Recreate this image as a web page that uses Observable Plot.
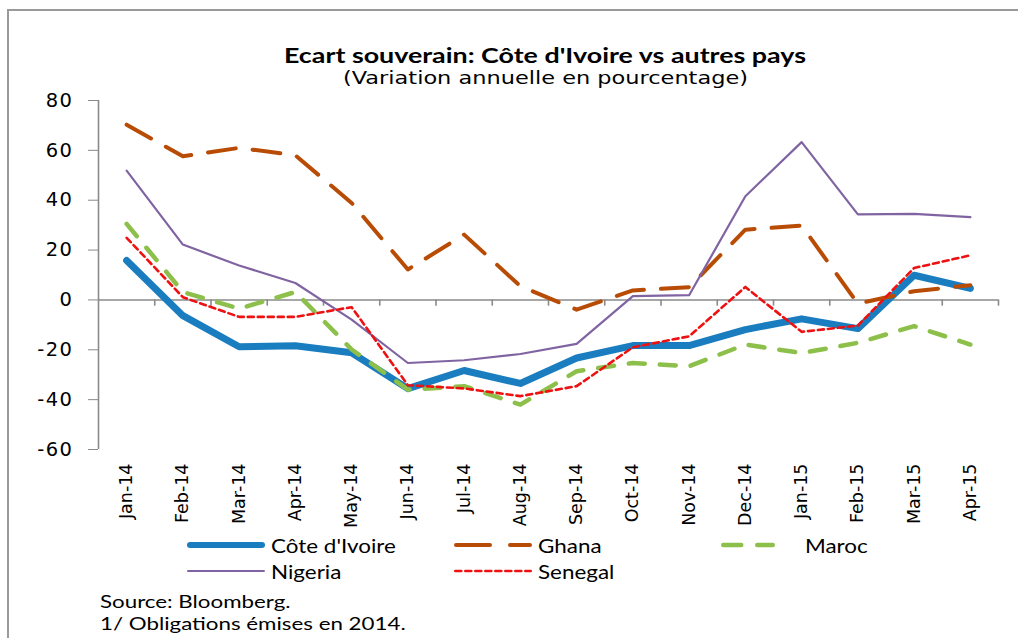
<!DOCTYPE html>
<html><head><meta charset="utf-8">
<script src="https://cdn.jsdelivr.net/npm/d3@7"></script>
<script src="https://cdn.jsdelivr.net/npm/@observablehq/plot@0.6"></script>
<style>
body{margin:0;background:#fff;}
#wrap{position:relative;width:1018px;height:638px;overflow:hidden;background:#fff;font-family:Lato,"Open Sans",sans-serif;color:#000;}
#frame{position:absolute;left:7px;top:9px;right:-10px;bottom:-10px;border-top:2px solid #9a9a9a;border-left:2px solid #9a9a9a;}
#chart{position:absolute;left:0;top:0;}
.title{position:absolute;white-space:nowrap;transform-origin:0 50%;}
#t1{top:42px;font-weight:bold;font-size:21px;}
#t2{top:67px;font-family:"DejaVu Sans";font-size:18px;}
.lg{position:absolute;display:flex;align-items:center;font-size:19px;white-space:nowrap;}
.lg svg{margin-right:6px;flex:none;}
.lg span{display:inline-block;transform:scaleX(1.18);transform-origin:0 50%;}
.note{position:absolute;left:100px;font-size:18px;white-space:nowrap;transform:scaleX(1.24);transform-origin:0 50%;}
</style></head><body>
<div id="wrap">
<div id="frame"></div>
<div id="chart"></div>
<div class="title" id="t1"></div>
<div class="title" id="t2"></div>
<div id="legend"></div>
<div class="note" id="n1" style="top:590px"></div>
<div class="note" id="n2" style="top:612px"></div>
</div>
<script>
const titleText = "Ecart souverain: Côte d'Ivoire  vs autres pays";
const subtitleText = "(Variation annuelle en pourcentage)";
const sourceText = "Source: Bloomberg.";
const footText = "1/ Obligations émises en 2014.";

const months = ["Jan-14","Feb-14","Mar-14","Apr-14","May-14","Jun-14","Jul-14","Aug-14","Sep-14","Oct-14","Nov-14","Dec-14","Jan-15","Feb-15","Mar-15","Apr-15"];
const yTicks = [-60, -40, -20, 0, 20, 40, 60, 80];

const coteIvoire = [15.8, -6.3, -18.8, -18.4, -21.2, -35.6, -28.3, -33.5, -23.3, -18.3, -18.3, -11.9, -7.6, -11.5, 9.9, 4.6];
const ghana      = [70.3, 57.6, 61.0, 58.0, 38.9, 12.2, 26.2, 5.5, -3.9, 3.8, 5.1, 28.2, 29.8, -1.5, 3.5, 5.9];
const maroc      = [30.5, 3.2, -3.5, 3.2, -19.9, -36.0, -34.6, -42.0, -28.6, -25.3, -26.6, -17.9, -21.3, -17.2, -10.5, -17.9];
const nigeria    = [51.9, 22.2, 13.8, 6.8, -7.9, -25.3, -24.2, -21.7, -17.6, 1.5, 1.9, 41.6, 63.3, 34.3, 34.5, 33.2];
const senegal    = [24.9, 1.1, -6.8, -6.8, -2.9, -34.2, -35.5, -38.6, -34.6, -19.0, -14.6, 5.2, -12.8, -10.3, 12.8, 17.9];

const seriesNames = ["Côte d'Ivoire", "Ghana", "Maroc", "Nigeria", "Senegal"];
const seriesData = [coteIvoire, ghana, maroc, nigeria, senegal];
const seriesStyle = [
  {stroke: "#1a7dc0", strokeWidth: 7, dash: null},
  {stroke: "#b84c05", strokeWidth: 4, dash: "28,17"},
  {stroke: "#8dc04b", strokeWidth: 4.5, dash: "16,15"},
  {stroke: "#8064a2", strokeWidth: 2.2, dash: null},
  {stroke: "#ee1111", strokeWidth: 2.6, dash: "6,4"}
];

const axisGray = "#8a8a8a";
const bounds = months.map((m, i) => i + 0.5);

const lineMarks = seriesData.map((data, k) => Plot.lineY(data, {
  stroke: seriesStyle[k].stroke,
  strokeWidth: seriesStyle[k].strokeWidth,
  strokeDasharray: seriesStyle[k].dash || undefined,
  strokeLinecap: "round",
  strokeLinejoin: "round"
}));

const chart = Plot.plot({
  width: 1018, height: 530,
  marginLeft: 98, marginRight: 20, marginTop: 100, marginBottom: 81,
  style: {fontFamily: "DejaVu Sans", fontSize: "18px", color: "#000", background: "transparent", overflow: "visible"},
  x: {domain: [-0.5, months.length - 0.5]},
  y: {domain: [-60, 80]},
  marks: [
    Plot.ruleY([0], {stroke: axisGray, strokeWidth: 1.6}),
    Plot.ruleX([-0.5], {stroke: axisGray, strokeWidth: 1.6}),
    Plot.ruleX(bounds, {x: d => d, y1: 0, y2: -2.5, stroke: axisGray, strokeWidth: 1.6}),
    Plot.axisY({ticks: yTicks, tickSize: 10, tickPadding: 15, stroke: axisGray, fontSize: 19.5, tickFormat: d => String(d), label: null}),
    Plot.axisX({ticks: d3.range(months.length), tickFormat: i => months[i], tickRotate: -90, tickSize: 0, tickPadding: 14, fontSize: 17.5, label: null}),
    ...lineMarks
  ]
});
document.getElementById("chart").appendChild(chart);

// widen the y tick labels slightly (reference glyphs are horizontally stretched)
chart.querySelectorAll("g[aria-label*='y-axis'] text").forEach(t => {
  if (/^-?\d+$/.test(t.textContent.trim())) {
    t.style.fontSize = "19.5px";
    t.style.letterSpacing = "1.5px";
  }
});

function fitCentered(el, text, center, targetW) {
  el.textContent = text;
  const w = el.getBoundingClientRect().width;
  const s = targetW / w;
  el.style.left = (center - targetW / 2) + "px";
  el.style.transform = `scaleX(${s})`;
}
fitCentered(document.getElementById("t1"), titleText, 545, 522);
fitCentered(document.getElementById("t2"), subtitleText, 545, 405);
document.getElementById("n1").textContent = sourceText;
document.getElementById("n2").textContent = footText;

// legend
const legendPos = [
  {left: 187, top: 532, w: 78},
  {left: 454, top: 532, w: 78},
  {left: 721, top: 532, w: 78, lineW: 54},
  {left: 187, top: 558, w: 78},
  {left: 454, top: 558, w: 78}
];
const legend = document.getElementById("legend");
seriesNames.forEach((name, k) => {
  const p = legendPos[k];
  const st = seriesStyle[k];
  const div = document.createElement("div");
  div.className = "lg";
  div.style.left = p.left + "px";
  div.style.top = p.top + "px";
  const svg = d3.create("svg").attr("width", p.w).attr("height", 26);
  const sw = Math.min(st.strokeWidth, 6);
  svg.append("line")
    .attr("x1", sw / 2).attr("x2", (p.lineW || p.w) - sw / 2)
    .attr("y1", 13).attr("y2", 13)
    .attr("stroke", st.stroke).attr("stroke-width", sw)
    .attr("stroke-linecap", "round")
    .attr("stroke-dasharray", st.dash ? (k === 1 ? "34,20" : k === 2 ? "18,16" : st.dash) : null);
  div.appendChild(svg.node());
  const span = document.createElement("span");
  span.textContent = name;
  div.appendChild(span);
  legend.appendChild(div);
});
</script>
</body></html>
